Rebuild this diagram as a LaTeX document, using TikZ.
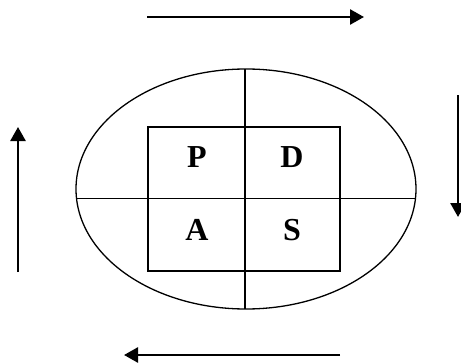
\documentclass[tikz,border=0pt]{standalone}
\usepackage{fontspec}
\setmainfont{Liberation Serif}
\usetikzlibrary{arrows.meta}
\begin{document}
\begin{tikzpicture}[x=1pt,y=-1pt,
  thinline/.style={line width=1.3pt},
  cycarrow/.style={line width=2.6pt,-{Triangle[length=14pt,width=15pt]}},
  letter/.style={font=\fontsize{32}{32}\selectfont\bfseries,inner sep=0pt}]
\useasboundingbox (0,0) rectangle (461,364);
% ellipse and cross
\draw[thinline] (246,189) ellipse [x radius=170, y radius=120];
\coordinate (top) at (245,69);
\coordinate (bot) at (245,309);
\coordinate (lft) at (76,198.5);
\coordinate (rgt) at (415,198.5);
\draw[thinline] (top) -- (bot);
\draw[thinline] (lft) -- (rgt);
% square
\draw[thinline] (148,127) rectangle (340,271);
% letters
\node[letter] (P) at (197,157.5) {P};
\node[letter] (D) at (292,157.5) {D};
\node[letter] (A) at (197,230) {A};
\node[letter] (S) at (292,230) {S};
% cycle arrows
\coordinate (t1) at (147,17);
\coordinate (t2) at (364,17);
\coordinate (r1) at (458,95);
\coordinate (r2) at (458,217);
\coordinate (b1) at (340,355);
\coordinate (b2) at (124,355);
\coordinate (l1) at (18,272);
\coordinate (l2) at (18,127);
\draw[cycarrow] (t1) -- (t2);
\draw[cycarrow] (r1) -- (r2);
\draw[cycarrow] (b1) -- (b2);
\draw[cycarrow] (l1) -- (l2);
\end{tikzpicture}
\end{document}
